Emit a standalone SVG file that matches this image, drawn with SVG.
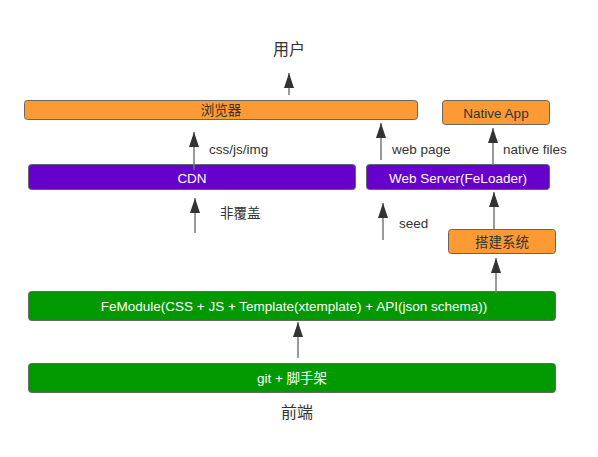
<svg xmlns="http://www.w3.org/2000/svg" width="598" height="457" viewBox="0 0 598 457">
<style>
  text { font-family: "Liberation Sans", "Noto Sans CJK SC", sans-serif; font-size: 13.5px; fill: #333; }
  .big { font-size: 16px; }
  .mid { text-anchor: middle; }
  .w { fill: #fff; }
  .box { stroke: #666; stroke-width: 1; }
  .orange { fill: #fe9a34; }
  .purple { fill: #6600cc; }
  .green { fill: #009900; }
  .conn line { stroke: #777; stroke-width: 1.5; marker-end: url(#arr); }
</style>
<defs>
  <marker id="arr" viewBox="0 0 15 10" refX="15" refY="5" markerWidth="15" markerHeight="10" markerUnits="userSpaceOnUse" orient="auto">
    <path d="M0,0 L15,5 L0,10 z" fill="#333"/>
  </marker>
</defs>
<rect width="598" height="457" fill="#fff"/>
<g id="user"><text class="big mid" x="289" y="55">用户</text></g>
<g id="frontend"><text class="big mid" x="297" y="418">前端</text></g>
<g id="browser"><rect class="box orange" x="24.5" y="100.5" width="393" height="19" rx="3"/><text class="mid" x="221" y="115">浏览器</text></g>
<g id="nativeapp"><rect class="box orange" x="442.5" y="100.5" width="107" height="24" rx="3"/><text class="mid" x="496" y="118">Native App</text></g>
<g id="cdn"><rect class="box purple" x="28.5" y="164.5" width="327" height="25" rx="3"/><text class="mid w" x="192" y="183">CDN</text></g>
<g id="webserver"><rect class="box purple" x="366.5" y="164.5" width="183" height="25" rx="3"/><text class="mid w" x="458" y="183">Web Server(FeLoader)</text></g>
<g id="build"><rect class="box orange" x="448.5" y="229.5" width="107" height="24" rx="3"/><text class="mid" x="502" y="247">搭建系统</text></g>
<g id="femodule"><rect class="box green" x="28.5" y="291.5" width="527" height="29" rx="3"/><text class="mid w" x="294" y="311">FeModule(CSS + JS + Template(xtemplate) + API(json schema))</text></g>
<g id="git"><rect class="box green" x="28.5" y="363.5" width="527" height="29" rx="3"/><text class="mid w" x="292" y="383">git + 脚手架</text></g>
<g id="connectors" class="conn">
  <line x1="289" y1="95" x2="289" y2="73"/>
  <line x1="194" y1="170" x2="194" y2="132"/>
  <line x1="381" y1="160" x2="381" y2="123"/>
  <line x1="493" y1="165" x2="493" y2="128"/>
  <line x1="195" y1="233" x2="195" y2="198"/>
  <line x1="383" y1="240" x2="383" y2="203"/>
  <line x1="494" y1="229" x2="494" y2="192"/>
  <line x1="496" y1="293" x2="496" y2="258"/>
  <line x1="298" y1="358" x2="298" y2="322"/>
</g>
<g id="labels">
  <text x="209" y="154">css/js/img</text>
  <text x="392" y="154">web page</text>
  <text x="503" y="154">native files</text>
  <text x="220" y="218">非覆盖</text>
  <text x="399" y="228">seed</text>
</g>
</svg>
